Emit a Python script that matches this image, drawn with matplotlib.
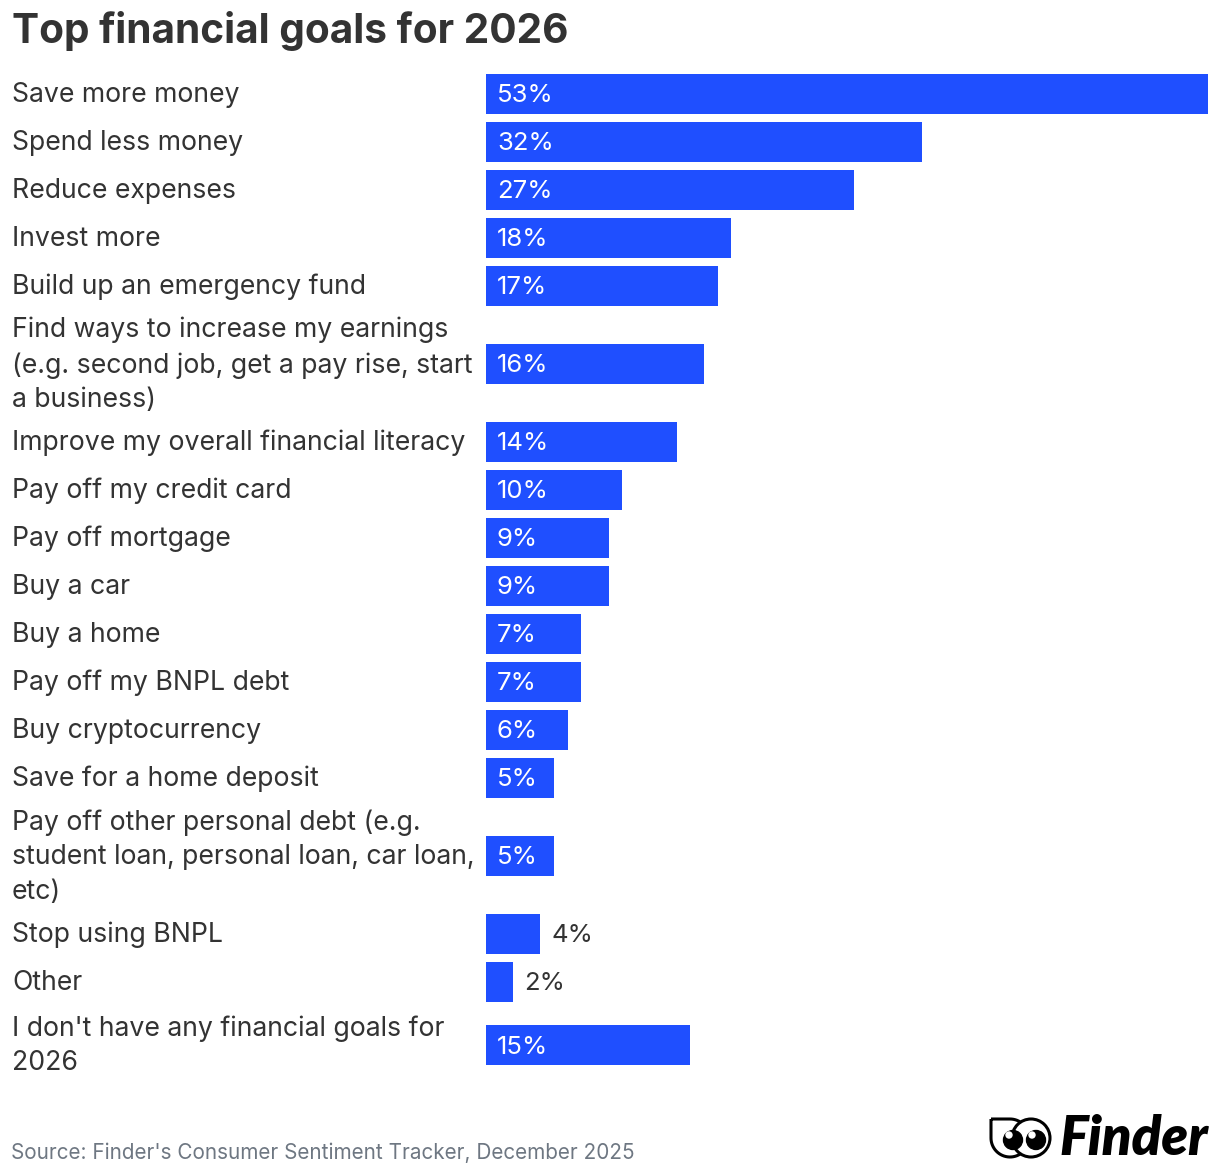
import numpy as np
import matplotlib
matplotlib.use("Agg")
from matplotlib import pyplot as plt
from matplotlib.patches import Circle, PathPatch
from matplotlib.path import Path

# data
labels = [
    "Save more money",
    "Spend less money",
    "Reduce expenses",
    "Invest more",
    "Build up an emergency fund",
    "Find ways to increase my earnings\n(e.g. second job, get a pay rise, start\na business)",
    "Improve my overall financial literacy",
    "Pay off my credit card",
    "Pay off mortgage",
    "Buy a car",
    "Buy a home",
    "Pay off my BNPL debt",
    "Buy cryptocurrency",
    "Save for a home deposit",
    "Pay off other personal debt (e.g.\nstudent loan, personal loan, car loan,\netc)",
    "Stop using BNPL",
    "Other",
    "I don't have any financial goals for\n2026",
]
values = [53, 32, 27, 18, 17, 16, 14, 10, 9, 9, 7, 7, 6, 5, 5, 4, 2, 15]

title = "Top financial goals for 2026"
source = "Source: Finder's Consumer Sentiment Tracker, December 2025"

BLUE = "#1f4fff"
DARK = "#333333"
GREY = "#6e7782"
FONT = "Inter"

W, H = 1220, 1176
fig = plt.figure(figsize=(W / 100, H / 100), dpi=100)
fig.patch.set_facecolor("white")

# row layout in pixels: taller rows for wrapped labels
nlines = np.array([l.count("\n") + 1 for l in labels])
row_h = 48 + (nlines - 1) * 30
centers = 70 + np.cumsum(row_h) - row_h / 2

ax = fig.add_axes([486 / W, 0, (1208 - 486) / W, 1])
ax.barh(centers, values, height=40, color=BLUE)
ax.set_xlim(0, max(values))
ax.set_ylim(H, 0)
ax.axis("off")

for lab, v, yc in zip(labels, values, centers):
    fig.text(12 / W, 1 - (yc + 1) / H, lab, ha="left", va="center", fontsize=19.2,
             family=FONT, color=DARK, linespacing=1.42)
    if v >= 5:
        ax.annotate(f"{v}%", (0, yc), xytext=(11, -2), textcoords="offset pixels",
                    ha="left", va="center", fontsize=18.5, family=FONT, color="white")
    else:
        ax.annotate(f"{v}%", (v, yc), xytext=(11, -2), textcoords="offset pixels",
                    ha="left", va="center", fontsize=18.5, family=FONT, color=DARK)

fig.text(12 / W, 1 - 31 / H, title, ha="left", va="center", fontsize=29.2,
         weight="bold", family=FONT, color=DARK)
fig.text(11 / W, 1 - 1153 / H, source, ha="left", va="center", fontsize=14.9,
         family=FONT, color=GREY)

# Finder logo
lg = fig.add_axes([0, 0, 1, 1], zorder=5)
lg.set_xlim(0, W)
lg.set_ylim(H, 0)
lg.axis("off")
lw = 2.2
# left eye: circle with a square top-left corner
cx, cy, r = 1010, 1138, 19
verts = [(cx - r, cy - r), (cx, cy - r)]
for a in np.linspace(np.pi / 2, -np.pi, 50):
    verts.append((cx + r * np.cos(a), cy - r * np.sin(a)))
verts.append((cx - r, cy - r))
lg.add_patch(PathPatch(Path(verts), facecolor="white", edgecolor="black", lw=lw))
lg.add_patch(Circle((1031, 1138), 19, facecolor="white", edgecolor="black", lw=lw))
for px in (1013, 1036):
    lg.add_patch(Circle((px, 1140), 9.5, color="black"))
    lg.add_patch(Circle((px - 4, 1135), 3, color="white"))
lg.text(1208, 1139, "Finder", ha="right", va="center", fontsize=39,
        family="Lato", weight="heavy", style="italic", color="black")

fig.savefig("out.png", dpi=100)
